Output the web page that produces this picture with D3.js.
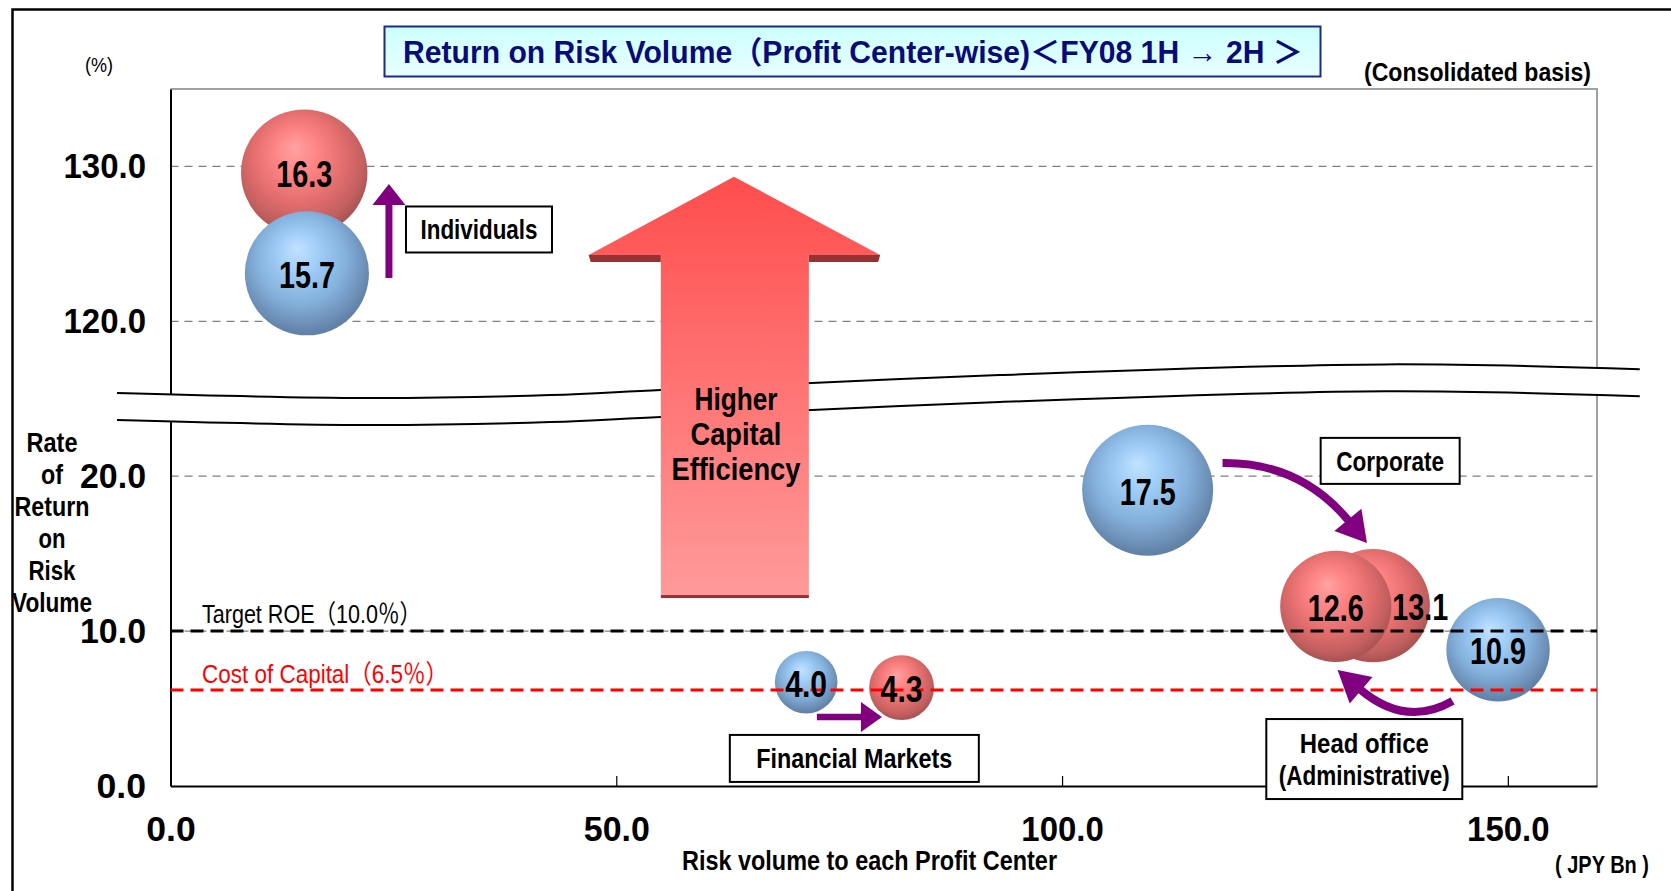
<!DOCTYPE html>
<html>
<head>
<meta charset="utf-8">
<script src="https://cdn.jsdelivr.net/npm/d3@7"></script>
<style>
    html, body { margin: 0; padding: 0; background: #fff; }
    svg { display: block; }
</style>
</head>
<body>
<div id="chart"></div>
<script>
(function () {

    // ---- values ----
    var segments = ['Individuals', 'Corporate', 'Financial Markets', 'Head office (Administrative)'];

    // FY08 1H (blue bubbles)
    var riskVolume1H = [15.3, 109.6, 71.3, 148.9];   // JPY Bn
    var returnRate1H = [123.1, 19.1, 6.7, 8.8];      // %
    var profit1H = [15.7, 17.5, 4.0, 10.9];          // bubble size / label

    // FY08 2H (red bubbles)
    var riskVolume2H = [15.0, 134.9, 82.0, 130.7];
    var returnRate2H = [129.6, 11.65, 6.35, 11.6];
    var profit2H = [16.3, 13.1, 4.3, 12.6];

    var xTicks = [0, 50, 100, 150];
    var yTicks = [0, 10, 20, 120, 130];

    var targetRoe = 10.0;
    var costOfCapital = 6.5;
    var costOfCapitalLine = 6.2;   // where the red line actually sits in the picture

    // ---- layout ----
    var width = 1671, height = 891;
    var plot = { left: 170.5, right: 1597, top: 89, bottom: 786 };
    var FONT = '"Liberation Sans Narrow", "Liberation Sans", Arial, "Noto Sans CJK JP", sans-serif';
    var purple = '#800080';

    var svg = d3.select('#chart')
        .append('svg')
        .attr('width', width)
        .attr('height', height)
        .style('font-family', FONT);

    svg.append('rect').attr('width', width).attr('height', height).attr('fill', '#fff');

    // x: risk volume, y: broken axis (20 jumps straight to 120)
    var x = d3.scaleLinear().domain([0, 160]).range([plot.left, plot.right]);
    var gap = 90;
    var brk = function (v) { return v > 60 ? v - gap : v; };
    var yDisp = d3.scaleLinear().domain([0, 45]).range([plot.bottom, plot.top]);
    var y = function (v) { return yDisp(brk(v)); };
    var r = d3.scaleSqrt().domain([0, 17.5]).range([0, 65.5]);

    var defs = svg.append('defs');

    /**
     * sphere-like radial gradients for the bubbles
     */
    var addBall = function (id, stops) {
        var grad = defs.append('radialGradient')
            .attr('id', id)
            .attr('cx', 0.47).attr('cy', 0.42).attr('r', 0.56)
            .attr('fx', 0.42).attr('fy', 0.3);
        stops.forEach(function (s) {
            grad.append('stop').attr('offset', s[0]).attr('stop-color', s[1]);
        });
    };
    addBall('ballRed', [[0, '#ffa3a3'], [0.3, '#ff8585'], [0.65, '#e36d6d'], [0.9, '#c25f5f'], [1, '#ad5555']]);
    addBall('ballBlue', [[0, '#c2e2ff'], [0.3, '#a0cdf7'], [0.65, '#84b0dc'], [0.9, '#6d90b7'], [1, '#6282a8']]);

    var bigGrad = defs.append('linearGradient')
        .attr('id', 'bigArrow').attr('x1', 0).attr('y1', 0).attr('x2', 0).attr('y2', 1);
    bigGrad.append('stop').attr('offset', 0).attr('stop-color', '#ff4d4d');
    bigGrad.append('stop').attr('offset', 1).attr('stop-color', '#ff9a9a');

    var titleGrad = defs.append('linearGradient')
        .attr('id', 'titleFill').attr('x1', 0).attr('y1', 0).attr('x2', 0).attr('y2', 1);
    titleGrad.append('stop').attr('offset', 0).attr('stop-color', '#ccffff');
    titleGrad.append('stop').attr('offset', 1).attr('stop-color', '#e8ffff');

    // outer frame (top and left edge of the slide panel)
    svg.append('path')
        .attr('d', 'M12.5,' + height + 'V9.5H' + width)
        .attr('fill', 'none')
        .attr('stroke', '#000')
        .attr('stroke-width', 2.5);

    // gridlines
    svg.append('g').selectAll('line')
        .data(yTicks.filter(function (v) { return v > 0; }))
        .enter()
        .append('line')
        .attr('x1', plot.left).attr('x2', plot.right)
        .attr('y1', function (d) { return y(d); })
        .attr('y2', function (d) { return y(d); })
        .attr('stroke', '#808080')
        .attr('stroke-width', 1.2)
        .attr('stroke-dasharray', '8,6');

    // plot border top/right
    svg.append('path')
        .attr('d', 'M' + plot.left + ',' + plot.top + 'H' + plot.right + 'V' + plot.bottom)
        .attr('fill', 'none')
        .attr('stroke', '#a0a0a0')
        .attr('stroke-width', 2);

    // axes
    var xAxis = d3.axisBottom(x)
        .tickValues(xTicks)
        .tickFormat(d3.format('.1f'))
        .tickSizeInner(-10)
        .tickSizeOuter(0)
        .tickPadding(30);

    var yAxis = d3.axisLeft(yDisp)
        .tickValues(yTicks.map(brk))
        .tickFormat(function (d) { return d3.format('.1f')(d > 25 ? d + gap : d); })
        .tickSize(0)
        .tickPadding(24.5);

    var gx = svg.append('g')
        .attr('transform', 'translate(0,' + plot.bottom + ')')
        .call(xAxis);
    var gy = svg.append('g')
        .attr('transform', 'translate(' + plot.left + ',0)')
        .call(yAxis);

    [gx, gy].forEach(function (g) {
        g.select('.domain').attr('stroke', '#000').attr('stroke-width', 2);
        g.selectAll('.tick line').attr('stroke', '#000').attr('stroke-width', 1.2);
        g.selectAll('.tick text')
            .attr('fill', '#000')
            .attr('textLength', function () { return this.textContent.length * 16.5; })
            .attr('lengthAdjust', 'spacingAndGlyphs')
            .style('font-family', '"Liberation Sans", Arial, sans-serif')
            .style('font-weight', 'bold')
            .style('font-size', '35px');
    });
    gx.selectAll('.tick').filter(function (d) { return d === 0; }).select('line').remove();

    // bubbles, larger ones first so the smaller stay visible
    var bubbles = [];
    segments.forEach(function (s, i) {
        bubbles.push({ key: s + ' 1H', x: riskVolume1H[i], y: returnRate1H[i], v: profit1H[i], fill: 'url(#ballBlue)' });
        bubbles.push({ key: s + ' 2H', x: riskVolume2H[i], y: returnRate2H[i], v: profit2H[i], fill: 'url(#ballRed)' });
    });
    bubbles.sort(function (a, b) { return b.v - a.v; });

    svg.append('g').selectAll('circle')
        .data(bubbles)
        .enter()
        .append('circle')
        .attr('cx', function (d) { return x(d.x); })
        .attr('cy', function (d) { return y(d.y); })
        .attr('r', function (d) { return r(d.v); })
        .attr('fill', function (d) { return d.fill; });

    // target ROE and cost of capital lines
    svg.append('line')
        .attr('x1', plot.left).attr('x2', plot.right)
        .attr('y1', y(targetRoe)).attr('y2', y(targetRoe))
        .attr('stroke', '#000').attr('stroke-width', 3).attr('stroke-dasharray', '13,7');
    svg.append('line')
        .attr('x1', plot.left).attr('x2', plot.right)
        .attr('y1', y(costOfCapitalLine)).attr('y2', y(costOfCapitalLine))
        .attr('stroke', '#ff0000').attr('stroke-width', 3).attr('stroke-dasharray', '13,7');

    svg.append('text')
        .attr('x', 202).attr('y', y(targetRoe) - 17)
        .attr('dominant-baseline', 'central')
        .attr('textLength', 219).attr('lengthAdjust', 'spacingAndGlyphs')
        .style('font-size', '26px')
        .text('Target ROE（' + d3.format('.1f')(targetRoe) + '％）');
    svg.append('text')
        .attr('x', 202).attr('y', y(costOfCapitalLine) - 16)
        .attr('dominant-baseline', 'central')
        .attr('fill', '#ff0000')
        .attr('textLength', 246).attr('lengthAdjust', 'spacingAndGlyphs')
        .style('font-size', '26px')
        .text('Cost of Capital（' + d3.format('.1f')(costOfCapital) + '％）');

    // axis break band
    var breakX = [-6, 22, 42.6, 55, 93, 136.2, 164.8];
    var breakY = [25.37, 25.05, 25.24, 25.57, 26.53, 27.22, 26.9];
    var bandH = 1.74;
    var upper = breakX.map(function (v, i) { return [x(v), yDisp(breakY[i])]; });
    var lower = breakX.map(function (v, i) { return [x(v), yDisp(breakY[i] - bandH)]; });
    var curve = d3.line().curve(d3.curveCatmullRom);
    svg.append('path')
        .attr('d', curve(upper) + 'L' + curve(lower.slice().reverse()).slice(1) + 'Z')
        .attr('fill', '#fff');
    [upper, lower].forEach(function (pts) {
        svg.append('path')
            .attr('d', curve(pts))
            .attr('fill', 'none')
            .attr('stroke', '#000')
            .attr('stroke-width', 2);
    });

    // big "Higher Capital Efficiency" arrow
    var big = { tipX: 63.2, tipY: 39.34, wingL: 46.9, wingR: 79.6, wingY: 34.28, shaftL: 55.0, shaftR: 71.6, bottomY: 12.33 };
    var bx = function (v) { return x(v); };
    var by = function (v) { return yDisp(v); };
    var shade = 7;
    svg.append('polygon')
        .attr('points', [
            [bx(big.wingL), by(big.wingY)], [bx(big.shaftL), by(big.wingY)],
            [bx(big.shaftL), by(big.wingY) + shade], [bx(big.wingL) + 2, by(big.wingY) + shade]
        ].join(' '))
        .attr('fill', '#963232');
    svg.append('polygon')
        .attr('points', [
            [bx(big.shaftR), by(big.wingY)], [bx(big.wingR), by(big.wingY)],
            [bx(big.wingR) - 2, by(big.wingY) + shade], [bx(big.shaftR), by(big.wingY) + shade]
        ].join(' '))
        .attr('fill', '#963232');
    svg.append('rect')
        .attr('x', bx(big.shaftL)).attr('y', by(big.bottomY))
        .attr('width', bx(big.shaftR) - bx(big.shaftL)).attr('height', 3)
        .attr('fill', '#963232');
    svg.append('polygon')
        .attr('points', [
            [bx(big.tipX), by(big.tipY)], [bx(big.wingR), by(big.wingY)], [bx(big.shaftR), by(big.wingY)],
            [bx(big.shaftR), by(big.bottomY)], [bx(big.shaftL), by(big.bottomY)],
            [bx(big.shaftL), by(big.wingY)], [bx(big.wingL), by(big.wingY)]
        ].join(' '))
        .attr('fill', 'url(#bigArrow)');

    var bigText = [['Higher', 398.6, 83], ['Capital', 433.7, 91], ['Efficiency', 469, 129]];
    svg.append('g').selectAll('text')
        .data(bigText)
        .enter()
        .append('text')
        .attr('x', bx(big.tipX) + 2)
        .attr('y', function (d) { return d[1]; })
        .attr('text-anchor', 'middle')
        .attr('dominant-baseline', 'central')
        .attr('textLength', function (d) { return d[2]; })
        .attr('lengthAdjust', 'spacingAndGlyphs')
        .style('font-size', '32px')
        .style('font-weight', 'bold')
        .text(function (d) { return d[0]; });

    // bubble labels (13.1 sits to the right so it is not hidden by 12.6)
    var labelNudge = { 'Corporate 2H': 47 };
    svg.append('g').selectAll('text')
        .data(bubbles)
        .enter()
        .append('text')
        .attr('x', function (d) { return x(d.x) + (labelNudge[d.key] || 0); })
        .attr('y', function (d) { return y(d.y) + 2; })
        .attr('text-anchor', 'middle')
        .attr('dominant-baseline', 'central')
        .attr('textLength', function (d) { return d3.format('.1f')(d.v).length * 14; })
        .attr('lengthAdjust', 'spacingAndGlyphs')
        .style('font-size', '36px')
        .style('font-weight', 'bold')
        .text(function (d) { return d3.format('.1f')(d.v); });

    // purple movement arrows
    var arrowLayer = svg.append('g');
    var purpleArrow = function (p0, c, tip, w, headLen, headW) {
        var from = c || p0;
        var dx = tip[0] - from[0], dy = tip[1] - from[1];
        var len = Math.sqrt(dx * dx + dy * dy);
        var ux = dx / len, uy = dy / len;
        var base = [tip[0] - ux * (headLen - 2), tip[1] - uy * (headLen - 2)];
        var head = [tip[0] - ux * headLen, tip[1] - uy * headLen];
        var d = c ? 'M' + p0 + 'Q' + c + ' ' + base : 'M' + p0 + 'L' + base;
        arrowLayer.append('path')
            .attr('d', d)
            .attr('fill', 'none')
            .attr('stroke', purple)
            .attr('stroke-width', w);
        var nx = -uy, ny = ux;
        arrowLayer.append('polygon')
            .attr('points', [tip,
                [head[0] + nx * headW / 2, head[1] + ny * headW / 2],
                [head[0] - nx * headW / 2, head[1] - ny * headW / 2]].join(' '))
            .attr('fill', purple);
    };
    var P = function (vx, vy) { return [x(vx), y(vy)]; };
    purpleArrow(P(24.5, 122.8), null, P(24.5, 128.86), 7, 21, 33);
    purpleArrow(P(72.5, 4.45), null, P(79.8, 4.45), 6.5, 21, 30);
    purpleArrow(P(118.0, 20.85), P(126.7, 20.92), P(134.2, 15.69), 8, 30, 35);
    purpleArrow(P(143.8, 5.49), P(138.5, 3.74), P(130.9, 7.49), 8, 31, 35);

    // text boxes
    var boxes = [
        { lines: ['Individuals'], cx: 34.6, cy: 125.93, w: 146, h: 46, len: [117] },
        { lines: ['Corporate'], cx: 136.8, cy: 20.99, w: 139, h: 46, len: [108] },
        { lines: ['Financial Markets'], cx: 76.7, cy: 1.78, w: 249, h: 47, len: [196] },
        { lines: ['Head office', '(Administrative)'], cx: 133.9, cy: 1.74, w: 196, h: 80, len: [129, 171] }
    ];
    boxes.forEach(function (b) {
        var px = x(b.cx), py = y(b.cy);
        svg.append('rect')
            .attr('x', px - b.w / 2).attr('y', py - b.h / 2)
            .attr('width', b.w).attr('height', b.h)
            .attr('fill', '#fff')
            .attr('stroke', '#000')
            .attr('stroke-width', 2);
        b.lines.forEach(function (line, i) {
            svg.append('text')
                .attr('x', px)
                .attr('y', py + (i - (b.lines.length - 1) / 2) * 32 + 1)
                .attr('text-anchor', 'middle')
                .attr('dominant-baseline', 'central')
                .attr('textLength', b.len[i])
                .attr('lengthAdjust', 'spacingAndGlyphs')
                .style('font-size', '27px')
                .style('font-weight', 'bold')
                .text(line);
        });
    });

    // title box
    svg.append('rect')
        .attr('x', 384.5).attr('y', 26.5).attr('width', 936).attr('height', 50)
        .attr('fill', 'url(#titleFill)')
        .attr('stroke', '#1c2a8c')
        .attr('stroke-width', 2);
    svg.append('text')
        .attr('x', 853).attr('y', 52)
        .attr('text-anchor', 'middle')
        .attr('dominant-baseline', 'central')
        .attr('fill', '#0b0b78')
        .attr('textLength', 900).attr('lengthAdjust', 'spacingAndGlyphs')
        .style('font-size', '31px')
        .style('font-weight', 'bold')
        .text('Return on Risk Volume（Profit Center-wise)＜FY08 1H → 2H ＞');

    // loose labels
    var label = function (str, px, py, size, len, weight, anchor) {
        svg.append('text')
            .attr('x', px).attr('y', py)
            .attr('text-anchor', anchor || 'middle')
            .attr('dominant-baseline', 'central')
            .attr('textLength', len).attr('lengthAdjust', 'spacingAndGlyphs')
            .style('font-size', size + 'px')
            .style('font-weight', weight || 'normal')
            .text(str);
    };
    label('(%)', 99, 64, 21, 28);
    label('(Consolidated basis)', 1477.5, 72, 25, 227, 'bold');
    label('Risk volume to each Profit Center', 869.5, 861, 27, 375, 'bold');
    label('( JPY Bn )', 1602, 864, 24, 94, 'bold');

    var yTitle = [['Rate', 51], ['of', 22], ['Return', 75], ['on', 27], ['Risk', 47], ['Volume', 80]];
    yTitle.forEach(function (t, i) {
        label(t[0], 52, 443 + i * 32, 27, t[1], 'bold');
    });

})();
</script>
</body>
</html>
